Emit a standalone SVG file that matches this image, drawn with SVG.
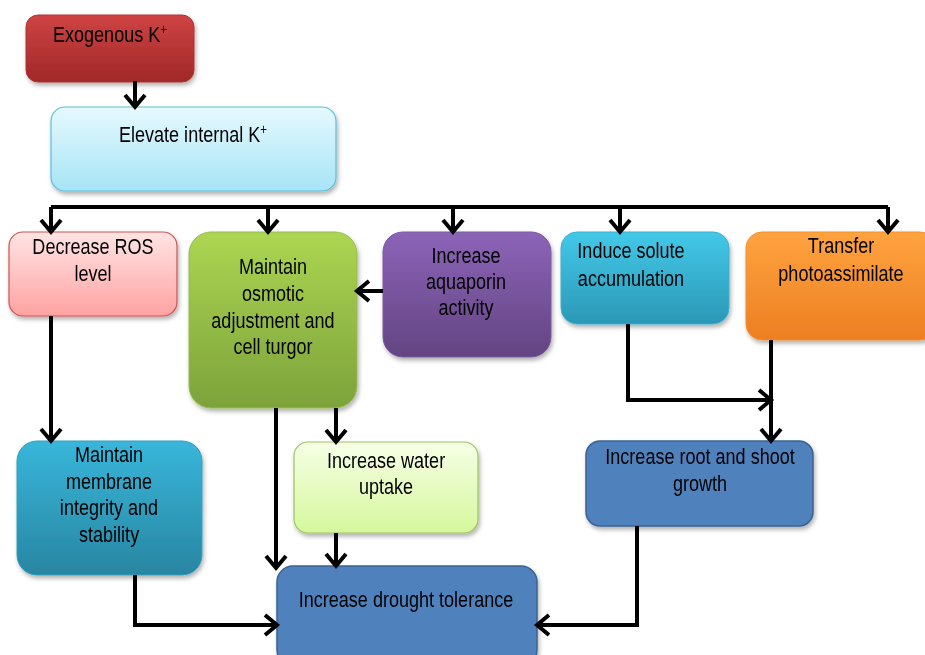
<svg xmlns="http://www.w3.org/2000/svg" width="925" height="655" viewBox="0 0 925 655">
<defs>
<style>
text{font-family:"Liberation Sans",Arial,sans-serif;font-size:22px;fill:#000;text-anchor:middle;transform-box:fill-box;transform-origin:center;transform:scaleX(0.82)}
.c{fill:none;stroke:#000;stroke-width:4;stroke-linejoin:miter;marker-end:url(#ah)}
.n{filter:url(#sh)}
</style>
<filter id="sh" x="-10%" y="-10%" width="130%" height="130%">
<feDropShadow dx="1.5" dy="3" stdDeviation="2" flood-color="#000" flood-opacity="0.3"/>
</filter>
<marker id="ah" markerUnits="userSpaceOnUse" markerWidth="26" markerHeight="26" viewBox="0 0 26 26" refX="14" refY="13" orient="auto">
<path d="M2,3 L14,13 L2,23" fill="none" stroke="#000" stroke-width="4"/>
</marker>
<linearGradient id="gRed" x1="0" y1="0" x2="0" y2="1"><stop offset="0" stop-color="#cf4343"/><stop offset="1" stop-color="#a02828"/></linearGradient>
<linearGradient id="gCyanL" x1="0" y1="0" x2="0" y2="1"><stop offset="0" stop-color="#e6f9fe"/><stop offset="1" stop-color="#a6e4f6"/></linearGradient>
<linearGradient id="gPink" x1="0" y1="0" x2="0" y2="1"><stop offset="0" stop-color="#ffe4e4"/><stop offset="1" stop-color="#ffa2a2"/></linearGradient>
<linearGradient id="gGreen" x1="0" y1="0" x2="0" y2="1"><stop offset="0" stop-color="#acd652"/><stop offset="1" stop-color="#7ca23a"/></linearGradient>
<linearGradient id="gPurple" x1="0" y1="0" x2="0" y2="1"><stop offset="0" stop-color="#8c64b8"/><stop offset="1" stop-color="#634482"/></linearGradient>
<linearGradient id="gCyan" x1="0" y1="0" x2="0" y2="1"><stop offset="0" stop-color="#44c8e8"/><stop offset="1" stop-color="#2a98b6"/></linearGradient>
<linearGradient id="gOrange" x1="0" y1="0" x2="0" y2="1"><stop offset="0" stop-color="#ffa33f"/><stop offset="1" stop-color="#ec7f22"/></linearGradient>
<linearGradient id="gTeal" x1="0" y1="0" x2="0" y2="1"><stop offset="0" stop-color="#38b6da"/><stop offset="1" stop-color="#2886a2"/></linearGradient>
<linearGradient id="gLime" x1="0" y1="0" x2="0" y2="1"><stop offset="0" stop-color="#f6ffe6"/><stop offset="1" stop-color="#d6f79c"/></linearGradient>
</defs>
<rect width="925" height="655" fill="#fff"/>

<g id="exogenous" class="n">
<rect x="26" y="15" width="168" height="67" rx="12" fill="url(#gRed)" stroke="#b03434" stroke-width="1"/>
<text x="110" y="42">Exogenous K<tspan font-size="14" dy="-8">+</tspan></text>
</g>
<g id="elevate" class="n">
<rect x="51" y="107" width="285" height="84" rx="14" fill="url(#gCyanL)" stroke="#5cbfd8" stroke-width="1.2"/>
<text x="193" y="142">Elevate internal K<tspan font-size="14" dy="-8">+</tspan></text>
</g>
<g id="ros" class="n">
<rect x="9" y="232" width="168" height="84" rx="14" fill="url(#gPink)" stroke="#cf5252" stroke-width="1.2"/>
<text x="93" y="254">Decrease ROS</text>
<text x="93" y="281">level</text>
</g>
<g id="osmotic" class="n">
<rect x="189" y="232" width="168" height="176" rx="22" fill="url(#gGreen)" stroke="#94bc4c" stroke-width="1"/>
<text x="273" y="274">Maintain</text>
<text x="273" y="301">osmotic</text>
<text x="273" y="328">adjustment and</text>
<text x="273" y="354">cell turgor</text>
</g>
<g id="aquaporin" class="n">
<rect x="383" y="232" width="168" height="125" rx="20" fill="url(#gPurple)" stroke="#7a58a0" stroke-width="1"/>
<text x="466" y="263">Increase</text>
<text x="466" y="289">aquaporin</text>
<text x="466" y="315">activity</text>
</g>
<g id="solute" class="n">
<rect x="561" y="232" width="168" height="92" rx="16" fill="url(#gCyan)" stroke="#3ab0d0" stroke-width="1"/>
<text x="631" y="258">Induce solute</text>
<text x="631" y="286">accumulation</text>
</g>
<g id="transfer" class="n">
<rect x="746" y="232" width="190" height="108" rx="16" fill="url(#gOrange)" stroke="#f09030" stroke-width="1"/>
<text x="841" y="253">Transfer</text>
<text x="841" y="281">photoassimilate</text>
</g>
<g id="membrane" class="n">
<rect x="17" y="441" width="185" height="134" rx="20" fill="url(#gTeal)" stroke="#30a0c0" stroke-width="1"/>
<text x="109" y="462">Maintain</text>
<text x="109" y="489">membrane</text>
<text x="109" y="515">integrity and</text>
<text x="109" y="542">stability</text>
</g>
<g id="water" class="n">
<rect x="294" y="442" width="184" height="91" rx="14" fill="url(#gLime)" stroke="#9cc460" stroke-width="1.2"/>
<text x="386" y="468">Increase water</text>
<text x="386" y="494">uptake</text>
</g>
<g id="root" class="n">
<rect x="586" y="441" width="227" height="85" rx="14" fill="#4f81bd" stroke="#3b6292" stroke-width="1.5"/>
<text x="700" y="464">Increase root and shoot</text>
<text x="700" y="491">growth</text>
</g>
<g id="drought" class="n">
<rect x="277" y="566" width="260" height="100" rx="16" fill="#4f81bd" stroke="#3b6292" stroke-width="1.5"/>
<text x="406" y="607">Increase drought tolerance</text>
</g>

<g id="connectors">
<path class="c" d="M135,81 V107"/>
<path fill="none" stroke="#000" stroke-width="4" d="M51,207 H888"/>
<path class="c" d="M51,207 V232"/>
<path class="c" d="M268,207 V232"/>
<path class="c" d="M453,207 V232"/>
<path class="c" d="M620,207 V232"/>
<path class="c" d="M888,207 V232"/>
<path class="c" d="M383,291 H357"/>
<path class="c" d="M51,316 V441"/>
<path class="c" d="M276,408 V568"/>
<path class="c" d="M336,408 V442"/>
<path class="c" d="M336,533 V566"/>
<path class="c" d="M135,575 V625 H277"/>
<path class="c" d="M637,526 V625 H537"/>
<path class="c" d="M628,324 V400 H771"/>
<path class="c" d="M771,340 V441"/>
</g>
</svg>
